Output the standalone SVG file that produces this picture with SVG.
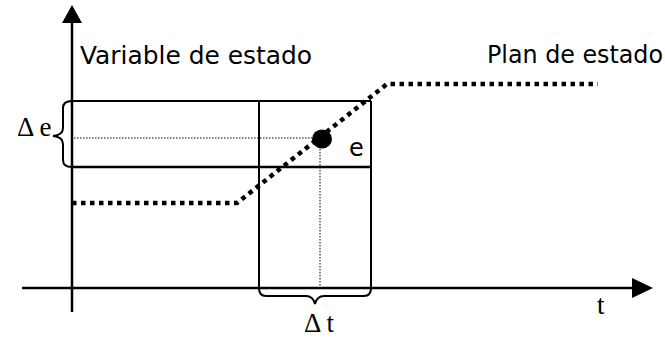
<svg xmlns="http://www.w3.org/2000/svg" width="665" height="340" viewBox="0 0 665 340">
<defs>
<style>
.ax{stroke:#000;stroke-width:2.5;fill:none}
.ln{stroke:#000;stroke-width:2;fill:none}
.dot{stroke:#000;stroke-width:1;fill:none;stroke-dasharray:1.5 1.5}
.plan{stroke:#000;stroke-width:4.5;fill:none;stroke-dasharray:4.5 4.5}
.sans{font-family:"DejaVu Sans",Verdana,sans-serif;font-size:24px;fill:#000}
.serif{font-family:"Liberation Serif","Times New Roman",serif;font-size:27px;fill:#000}
</style>
</defs>
<rect width="665" height="340" fill="#fff"/>
<g id="axes">
<line class="ax" x1="72" y1="20" x2="72" y2="312"/>
<polygon points="72,5 62,23 82,23" fill="#000"/>
<line class="ax" x1="22" y1="288" x2="635" y2="288"/>
<polygon points="653,288 632,278 632,298" fill="#000"/>
</g>
<g id="rects">
<line class="ln" x1="72" y1="101" x2="371" y2="101"/>
<line class="ax" x1="72" y1="167" x2="371" y2="167"/>
<line class="ln" x1="259" y1="101" x2="259" y2="288"/>
<line class="ln" x1="371" y1="101" x2="371" y2="288"/>
</g>
<g id="guides">
<line class="dot" x1="74" y1="138" x2="312" y2="138"/>
<line class="dot" x1="320" y1="146" x2="320" y2="287"/>
</g>
<g id="braces">
<path class="ln" d="M72,101 Q63,101 63,108 L63,128 Q63,135 53,136 Q63,137 63,144 L63,160 Q63,167 72,167"/>
<path class="ln" d="M259,288 Q259,296 266,296 L306,296 Q313,296 315,304 Q317,296 324,296 L364,296 Q371,296 371,288"/>
</g>
<g id="plan">
<path class="plan" d="M72,203 L237,203 L387,84 L598,84"/>
</g>
<g id="point">
<ellipse cx="322" cy="139" rx="10" ry="9.5" fill="#000"/>
</g>
<g id="labels">
<text class="sans" x="80" y="64" textLength="232" lengthAdjust="spacingAndGlyphs">Variable de estado</text>
<text class="sans" x="487" y="63" textLength="176" lengthAdjust="spacingAndGlyphs">Plan de estado</text>
<text class="sans" x="349" y="156">e</text>
<text class="serif" x="17" y="136">Δ e</text>
<text class="serif" x="304" y="332" font-size="26">Δ t</text>
<text class="serif" x="597" y="314">t</text>
</g>
</svg>
